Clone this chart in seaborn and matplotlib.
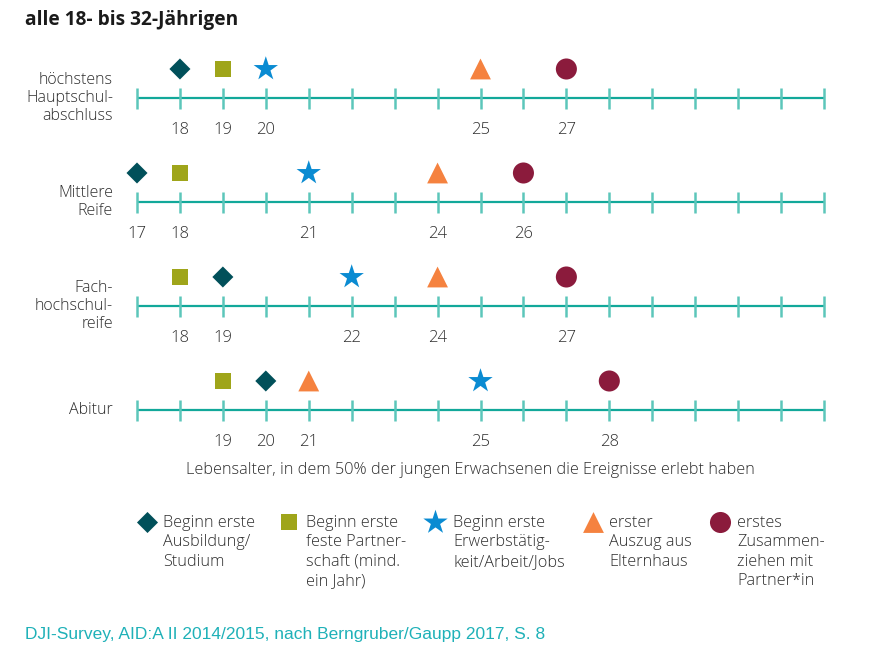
import matplotlib
matplotlib.use("Agg")
import matplotlib.pyplot as plt
import matplotlib.transforms as mtransforms
import seaborn as sns
import pandas as pd

# Data: age at which 50% experienced each event, per school level
groups = ["höchstens\nHauptschul-\nabschluss", "Mittlere\nReife", "Fach-\nhochschul-\nreife", "Abitur"]
ausbildung = [18, 17, 19, 20]
partnerschaft = [19, 18, 18, 19]
erwerb = [20, 21, 22, 25]
auszug = [25, 24, 24, 21]
zusammen = [27, 26, 27, 28]

event_names = ["ausbildung", "partnerschaft", "erwerb", "auszug", "zusammen"]
event_labels = [
    "Beginn erste\nAusbildung/\nStudium",
    "Beginn erste\nfeste Partner-\nschaft (mind.\nein Jahr)",
    "Beginn erste\nErwerbstätig-\nkeit/Arbeit/Jobs",
    "erster\nAuszug aus\nElternhaus",
    "erstes\nZusammen-\nziehen mit\nPartner*in",
]
age_min, age_max = 17, 33

colors = {"ausbildung": "#01505a", "partnerschaft": "#9fa51a", "erwerb": "#0a8bd2",
          "auszug": "#f5823f", "zusammen": "#8b1b3c"}
markers = {"ausbildung": "D", "partnerschaft": "s", "erwerb": "*", "auszug": "^", "zusammen": "o"}
sizes = {"ausbildung": 115, "partnerschaft": 135, "erwerb": 340, "auszug": 225, "zusammen": 230}

series = [ausbildung, partnerschaft, erwerb, auszug, zusammen]
rows = []
for ev, vals in zip(event_names, series):
    for i, v in enumerate(vals):
        rows.append({"event": ev, "row": i, "age": v})
df = pd.DataFrame(rows)

W, H = 873, 661
sns.set_theme(style="white")
plt.rcParams["font.family"] = ["Open Sans", "DejaVu Sans"]
plt.rcParams["font.weight"] = "light"
txt_color = "#2e2e2e"

fig = plt.figure(figsize=(W / 100, H / 100), dpi=100)
ax = fig.add_axes([0, 0, 1, 1])
ax.set_axis_off()

# map: year -> pixel x, row -> pixel y
x0_px, x1_px = 137, 824
ppy = (x1_px - x0_px) / (age_max - age_min)
ax.set_xlim(age_min - x0_px / ppy, age_min + (W - x0_px) / ppy)
row0_px, row_gap = 98, 104
ax.set_ylim((H - row0_px) / row_gap, -row0_px / row_gap)
px_to_row = 1 / row_gap

line_col = "#12a89a"
tick_col = "#5cc6ba"
for i in range(len(groups)):
    ax.hlines(i, age_min, age_max, color=line_col, lw=1.6, zorder=1)
    ax.vlines(range(age_min, age_max + 1), i - 10.5 * px_to_row, i + 10.5 * px_to_row,
              color=tick_col, lw=1.8, zorder=1)

df["y"] = df["row"] - 29 * px_to_row
sns.scatterplot(data=df, x="age", y="y", hue="event", style="event", size="event",
                palette=colors, markers=markers, sizes=sizes, linewidth=0,
                legend=False, ax=ax, zorder=3)

# age labels under each row
for i in range(len(groups)):
    ages = sorted(df.loc[df["row"] == i, "age"].unique())
    for a in ages:
        ax.text(a, i + 32 * px_to_row, str(a), ha="center", va="center",
                fontsize=12, color=txt_color)

# row labels
blend = mtransforms.blended_transform_factory(ax.transAxes, ax.transData)
for i, g in enumerate(groups):
    ax.text(113 / W, i, g, transform=blend, ha="right", va="center",
            multialignment="right", fontsize=11.5, color=txt_color, linespacing=1.2)

def fx(p):
    return p / W

def fy(p):
    return 1 - p / H

fig.text(fx(25), fy(20), "alle 18- bis 32-Jährigen", fontsize=13.8, fontweight="bold",
         color="#1a1a1a", ha="left", va="center")

fig.text(fx(470), fy(470), "Lebensalter, in dem 50% der jungen Erwachsenen die Ereignisse erlebt haben",
         fontsize=11.7, color=txt_color, ha="center", va="center")

# legend
leg_marker_x = [147, 289, 435, 593, 720]
leg_text_x = [163, 306, 453, 609, 737]
leg_y = 522
for ev, lab, mx, tx in zip(event_names, event_labels, leg_marker_x, leg_text_x):
    ax.scatter(ax.get_xlim()[0] + mx / ppy, (leg_y - row0_px) * px_to_row, marker=markers[ev],
               s=sizes[ev], color=colors[ev], linewidths=0, zorder=3)
    fig.text(fx(tx), fy(leg_y - 7), lab, fontsize=11.7, color=txt_color,
             ha="left", va="top", linespacing=1.28)

fig.text(fx(25), fy(634), "DJI-Survey, AID:A II 2014/2015, nach Berngruber/Gaupp 2017, S. 8",
         fontsize=12.5, color="#1fb1b8", ha="left", va="center", family="Liberation Sans",
         fontweight="normal")

fig.savefig("out.png", dpi=100)
